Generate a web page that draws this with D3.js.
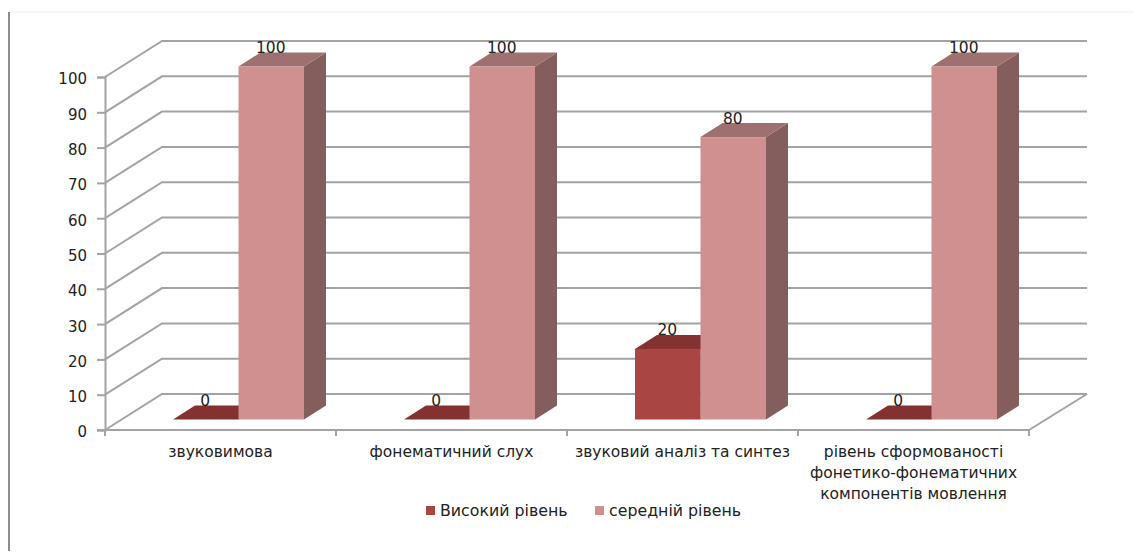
<!DOCTYPE html>
<html>
<head>
<meta charset="utf-8">
<script src="https://cdnjs.cloudflare.com/ajax/libs/d3/7.8.5/d3.min.js"></script>
<style>
  html, body { margin: 0; padding: 0; background: #fff; }
  svg { display: block; }
  text { font-family: "DejaVu Sans", sans-serif; fill: #222; }
</style>
</head>
<body>
<svg id="chart" width="1134" height="560"></svg>
<script>
var categories = [
    ["звуковимова"],
    ["фонематичний слух"],
    ["звуковий аналіз та синтез"],
    ["рівень сформованості", "фонетико-фонематичних", "компонентів мовлення"]
];
var seriesNames = ["Високий рівень", "середній рівень"];
var highLevel = [0, 0, 20, 0];
var midLevel = [100, 100, 80, 100];
var yTicks = [0, 10, 20, 30, 40, 50, 60, 70, 80, 90, 100];

var svg = d3.select("#chart");

var x = d3.scaleBand().domain(d3.range(categories.length)).range([105, 1029]);
var inner = d3.scaleBand().domain([0, 1]).range([0, 131]);
var y = d3.scaleLinear().domain([0, 100]).range([430, 77]);

// depth of the back wall and of the bars
var wallDx = 57, wallDy = -36;
var barShiftX = 18, barShiftY = -10.5;
var barDx = 22, barDy = -14;
var gridColor = "#a3a3a3";

// page frame
svg.append("line").attr("x1", 9).attr("x2", 1134).attr("y1", 12).attr("y2", 12)
    .attr("stroke", "#f1f1f1");
svg.append("line").attr("x1", 9).attr("x2", 9).attr("y1", 12).attr("y2", 551)
    .attr("stroke", "#8c8c8c").attr("stroke-width", 2);

// walls
var grid = svg.append("g").attr("fill", "none").attr("stroke", gridColor).attr("stroke-width", 2);
yTicks.forEach(function (t) {
    var py = y(t);
    grid.append("path").attr("d", d3.line()([
        [x.range()[0], py],
        [x.range()[0] + wallDx, py + wallDy],
        [1087, py + wallDy]
    ]));
});
grid.append("path").attr("d", d3.line()([
    [x.range()[1], y(0)],
    [1087, y(0) + wallDy]
]));

// left axis
var yAxis = d3.axisLeft(y).tickValues(yTicks).tickSize(8).tickPadding(10);
var yG = svg.append("g").attr("transform", "translate(105,0)").call(yAxis);
yG.selectAll("path, line").attr("stroke", gridColor).attr("stroke-width", 2);
yG.selectAll("text").style("font-size", "15px").style("font-family", "'DejaVu Sans'")
    .attr("fill", "#222").attr("dy", "0.46em");

// category axis
var axisX = svg.append("g").attr("stroke", gridColor).attr("stroke-width", 2);
axisX.append("line").attr("x1", 97).attr("x2", 1029).attr("y1", y(0)).attr("y2", y(0));
d3.range(categories.length + 1).forEach(function (i) {
    var px = i < categories.length ? x(i) : x.range()[1];
    axisX.append("line").attr("x1", px).attr("x2", px).attr("y1", y(0)).attr("y2", y(0) + 6);
});

// one extruded bar: top and side faces behind the front face
function drawBar(cat, series, value, front, top, side) {
    var x0 = x(cat) + (x.bandwidth() - 131) / 2 + barShiftX + inner(series);
    var x1 = x0 + inner.bandwidth();
    var y0 = y(0) + barShiftY;
    var y1 = y(value) + barShiftY;
    var g = svg.append("g");
    g.append("polygon").attr("fill", side).attr("points", [
        [x1, y0], [x1 + barDx, y0 + barDy], [x1 + barDx, y1 + barDy], [x1, y1]
    ].join(" "));
    g.append("polygon").attr("fill", top).attr("points", [
        [x0, y1], [x0 + barDx, y1 + barDy], [x1 + barDx, y1 + barDy], [x1, y1]
    ].join(" "));
    g.append("rect").attr("x", x0).attr("y", y1).attr("width", x1 - x0).attr("height", y0 - y1)
        .attr("fill", front);
}

highLevel.forEach(function (v, i) { drawBar(i, 0, v, "#a94542", "#833231", "#6f2a29"); });
midLevel.forEach(function (v, i) { drawBar(i, 1, v, "#d09090", "#9e706f", "#835e5c"); });

// value labels
function valueLabels(values, series) {
    svg.append("g").selectAll("text").data(values).enter().append("text")
        .attr("x", function (d, i) {
            return x(i) + (x.bandwidth() - 131) / 2 + barShiftX + inner(series) + inner.bandwidth() / 2 - 0.5;
        })
        .attr("y", function (d) { return y(d) + barShiftY - 13.5; })
        .attr("text-anchor", "middle")
        .style("font-size", "15.5px")
        .text(function (d) { return d; });
}
valueLabels(highLevel, 0);
valueLabels(midLevel, 1);

// category labels
categories.forEach(function (lines, i) {
    var t = svg.append("text").attr("text-anchor", "middle").style("font-size", "15.5px");
    lines.forEach(function (line, k) {
        t.append("tspan").attr("x", x(i) + x.bandwidth() / 2).attr("y", 457 + k * 21).text(line);
    });
});

// legend
var legendX = [426, 595];
var legendColors = ["#a94542", "#d09090"];
seriesNames.forEach(function (name, i) {
    svg.append("rect").attr("x", legendX[i]).attr("y", 506).attr("width", 9).attr("height", 9)
        .attr("fill", legendColors[i]);
    svg.append("text").attr("x", legendX[i] + 14).attr("y", 515.5)
        .style("font-size", "15.8px").text(name);
});
</script>
</body>
</html>
